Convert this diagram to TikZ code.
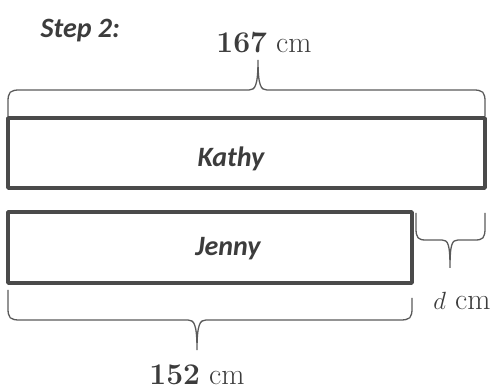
\documentclass[tikz,border=0pt]{standalone}
\usepackage{fontspec}
\usepackage{xcolor}
\usepackage{tikz}
\newfontfamily\barfont{Carlito}
\definecolor{bargray}{HTML}{4A4A4A}
\definecolor{bracegray}{HTML}{5A5A5A}
\definecolor{textgray}{HTML}{3C3C3C}
\tikzset{
	bar/.style={draw=bargray, line width=3.6pt, line join=round},
	brace/.style={draw=bracegray, line width=1.3pt},
	barlabel/.style={text=textgray, font=\barfont\bfseries\itshape\fontsize{28}{32}\selectfont},
	measure/.style={text=textgray, font=\fontsize{30}{34}\selectfont}
}

\begin{document}
\begin{tikzpicture}[x=1pt, y=1pt]
				\useasboundingbox (0,0) rectangle (495,390);
				\node[barlabel, anchor=west] (step) at (37,359) {Step 2:};
				\draw[bar] (8,202) rectangle (485,272);
				\node[barlabel] (kathy) at (231,231) {Kathy};
				\draw[bar] (8,107) rectangle (412,178);
				\node[barlabel] (jenny) at (228,141) {Jenny};
				% braces
				\draw[brace] (8,274) -- (8,288) .. controls (8,298) and (10,300) .. (20,300) -- (249,300) .. controls (255,300) and (258,304) .. (258,330) .. controls (258,304) and (261,300) .. (267,300) -- (473,300) .. controls (483,300) and (485,298) .. (485,288) -- (485,274);
				\draw[brace] (416,177) -- (416,162) .. controls (416,152) and (418,150) .. (426,150) -- (442,150) .. controls (448,150) and (450,146) .. (450,122) .. controls (450,146) and (452,150) .. (458,150) -- (475,150) .. controls (483,150) and (485,152) .. (485,162) -- (485,177);
				\draw[brace] (8,100) -- (8,82) .. controls (8,72) and (10,70) .. (20,70) -- (188,70) .. controls (194,70) and (197,66) .. (197,40) .. controls (197,66) and (200,70) .. (206,70) -- (400,70) .. controls (410,70) and (412,72) .. (412,82) -- (412,92);
				\node[measure] (total) at (264,347) {\textbf{167} cm};
				\node[measure] (diff) at (462,89) {$d$ cm};
				\node[measure] (part) at (197,15) {\textbf{152} cm};
			\end{tikzpicture}
\end{document}
